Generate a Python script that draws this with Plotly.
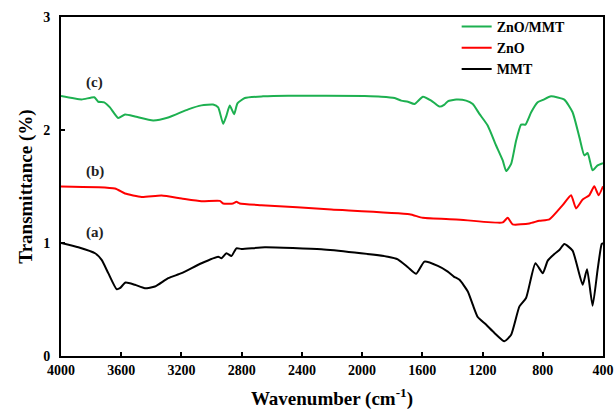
import plotly.graph_objects as go

# FTIR spectra: wavenumber (cm^-1) and stacked transmittance values
zno_mmt_wn = [4000, 3863, 3779, 3753, 3713, 3675, 3620, 3575, 3509, 3388, 3288, 3155, 3067,
              2990, 2956, 2923, 2901, 2879, 2850, 2828, 2779, 2658, 2492, 1983, 1873, 1784,
              1740, 1696, 1652, 1596, 1541, 1486, 1453, 1431, 1375, 1309, 1265, 1221, 1166,
              1110, 1066, 1043, 1010, 977, 944, 915, 877, 834, 800, 745, 657, 602, 557, 524,
              502, 469, 436, 400]
zno_mmt_t = [2.30, 2.27, 2.29, 2.25, 2.245, 2.20, 2.107, 2.137, 2.12, 2.084, 2.11, 2.183, 2.218,
             2.225, 2.20, 2.055, 2.128, 2.216, 2.14, 2.236, 2.283, 2.298, 2.304, 2.30, 2.295, 2.283,
             2.26, 2.25, 2.23, 2.295, 2.26, 2.207, 2.225, 2.254, 2.269, 2.26, 2.23, 2.143, 2.04,
             1.863, 1.731, 1.637, 1.70, 1.907, 2.048, 2.048, 2.157, 2.245, 2.266, 2.298, 2.269,
             2.157, 1.937, 1.775, 1.796, 1.643, 1.687, 1.707]

zno_wn = [4000, 3642, 3575, 3465, 3332, 3199, 3067, 2945, 2923, 2857, 2835, 2813, 2669, 2204,
          1685, 1597, 1375, 1066, 1033, 1000, 889, 823, 756, 668, 612, 579, 535, 491, 458,
          429, 400]
zno_t = [1.50, 1.482, 1.438, 1.408, 1.42, 1.394, 1.37, 1.373, 1.35, 1.35, 1.364, 1.35, 1.335,
         1.297, 1.255, 1.223, 1.209, 1.182, 1.223, 1.165, 1.173, 1.197, 1.209, 1.335, 1.423,
         1.306, 1.385, 1.423, 1.502, 1.423, 1.502]

mmt_wn = [4000, 3885, 3774, 3730, 3686, 3631, 3609, 3571, 3509, 3443, 3376, 3288, 3199, 3067,
          2956, 2934, 2901, 2868, 2835, 2801, 2646, 2271, 2050, 1829, 1763, 1696, 1641, 1586,
          1497, 1431, 1391, 1353, 1298, 1265, 1232, 1177, 1121, 1055, 1010, 955, 911, 849, 800,
          767, 723, 690, 657, 602, 535, 506, 469, 436, 409, 400]
mmt_t = [1.0, 0.962, 0.909, 0.850, 0.733, 0.592, 0.60, 0.650, 0.630, 0.60, 0.615, 0.689, 0.733,
         0.821, 0.879, 0.865, 0.909, 0.885, 0.953, 0.947, 0.962, 0.944, 0.915, 0.879, 0.856,
         0.786, 0.727, 0.835, 0.797, 0.747, 0.703, 0.674, 0.571, 0.454, 0.345, 0.278, 0.204,
         0.130, 0.189, 0.439, 0.513, 0.821, 0.733, 0.844, 0.903, 0.938, 0.991, 0.932, 0.630,
         0.768, 0.445, 0.762, 0.991, 1.0]

x_ticks = [4000, 3600, 3200, 2800, 2400, 2000, 1600, 1200, 800, 400]
y_ticks = [0, 1, 2, 3]
curve_labels = ["(c)", "(b)", "(a)"]
label_pos_wn = [3775, 3775, 3775]
label_pos_t = [2.42, 1.633, 1.097]

FONT = "Liberation Serif"

fig = go.Figure()
fig.add_trace(go.Scatter(x=zno_mmt_wn, y=zno_mmt_t, mode="lines", name="<b>ZnO/MMT</b>",
                         line=dict(color="#1DB050", width=2, shape="spline", smoothing=0.5)))
fig.add_trace(go.Scatter(x=zno_wn, y=zno_t, mode="lines", name="<b>ZnO</b>",
                         line=dict(color="#FF0000", width=2, shape="spline", smoothing=0.5)))
fig.add_trace(go.Scatter(x=mmt_wn, y=mmt_t, mode="lines", name="<b>MMT</b>",
                         line=dict(color="#000000", width=2, shape="spline", smoothing=0.5)))

for txt, xv, yv in zip(curve_labels, label_pos_wn, label_pos_t):
    fig.add_annotation(x=xv, y=yv, xref="x", yref="y", text=f"<b>{txt}</b>", showarrow=False,
                       font=dict(family=FONT, size=15, color="#222222"))

axis_common = dict(showgrid=False, zeroline=False, showline=True, linecolor="black",
                   linewidth=2, mirror=True, ticks="inside", ticklen=4, tickwidth=1.5,
                   tickcolor="black", automargin=False,
                   tickfont=dict(family=FONT, size=14, color="black"))

fig.update_xaxes(range=[4000, 400], tickvals=x_ticks, ticktext=[f"<b>{v}</b>" for v in x_ticks],
                 title=dict(text="<b>Wavenumber (cm<sup>-1</sup>)</b>",
                            font=dict(family=FONT, size=19, color="black"), standoff=18),
                 **axis_common)
fig.update_yaxes(range=[0, 3], tickvals=y_ticks, ticktext=[f"<b>{v}</b>" for v in y_ticks],
                 ticklabelstandoff=6,
                 title=dict(text="<b>Transmittance (%)</b>",
                            font=dict(family=FONT, size=19, color="black"), standoff=6),
                 **axis_common)

fig.update_layout(
    width=615, height=410,
    margin=dict(l=61, r=12, t=16, b=54),
    plot_bgcolor="white", paper_bgcolor="white",
    showlegend=True,
    legend=dict(x=0.73, y=1.015, xanchor="left", yanchor="top", bgcolor="rgba(0,0,0,0)",
                font=dict(family=FONT, size=14, color="black"), tracegroupgap=0,
                itemwidth=30),
)

fig.write_html("out.html")
